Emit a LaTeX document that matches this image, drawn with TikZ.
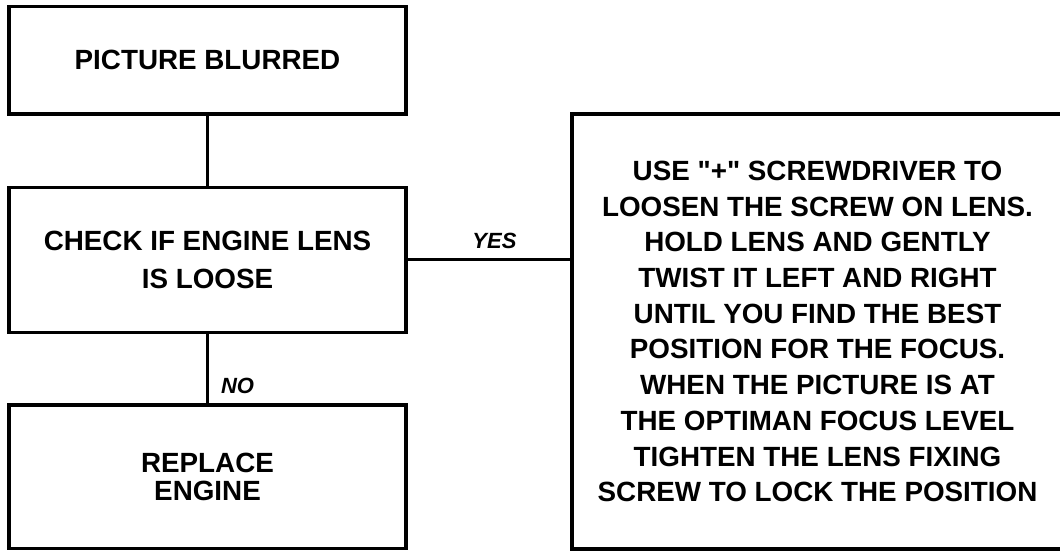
\documentclass[tikz,border=0pt]{standalone}
\usepackage{fontspec}
\setmainfont{Liberation Sans}[Ligatures=TeXOff]
\begin{document}
\begin{tikzpicture}[x=1pt,y=-1pt,
  box/.style={draw=black,line width=3.3pt,rectangle,inner sep=0pt,align=center,font=\bfseries},
  conn/.style={draw=black,line width=3.3pt},
  lbl/.style={inner sep=0pt,font=\bfseries\itshape\fontsize{22}{26}\selectfont}]
\useasboundingbox (0,0) rectangle (1060,551);
\node[box,minimum width=397pt,minimum height=107.5pt,font=\bfseries\fontsize{27.8}{32}\selectfont] (b1) at (207.5,60.25) {PICTURE BLURRED};
\node[box,minimum width=397pt,minimum height=145pt,font=\bfseries\fontsize{27.8}{38.3}\selectfont] (b2) at (207.5,259.8) {CHECK IF ENGINE LENS\\IS LOOSE};
\node[box,minimum width=397pt,minimum height=143.7pt,font=\bfseries\fontsize{27.8}{28.7}\selectfont] (b3) at (207.5,476.9) {REPLACE\\ENGINE};
\node[box,minimum width=491pt,minimum height=435pt,font=\bfseries\fontsize{27.8}{35.7}\selectfont] (rb) at (817.5,331.5) {USE "+" SCREWDRIVER TO\\LOOSEN THE SCREW ON LENS.\\HOLD LENS AND GENTLY\\TWIST IT LEFT AND RIGHT\\UNTIL YOU FIND THE BEST\\POSITION FOR THE FOCUS.\\WHEN THE PICTURE IS AT\\THE OPTIMAN FOCUS LEVEL\\TIGHTEN THE LENS FIXING\\SCREW TO LOCK THE POSITION};
\draw[conn] (b1.south) -- (b2.north);
\draw[conn] (b2.south) -- (b3.north);
\draw[conn] (b2.east) -- (b2.east -| rb.west);
\node[lbl] (yes) at (494.5,240.7) {YES};
\node[lbl] (no) at (237.5,386) {NO};
\end{tikzpicture}
\end{document}
